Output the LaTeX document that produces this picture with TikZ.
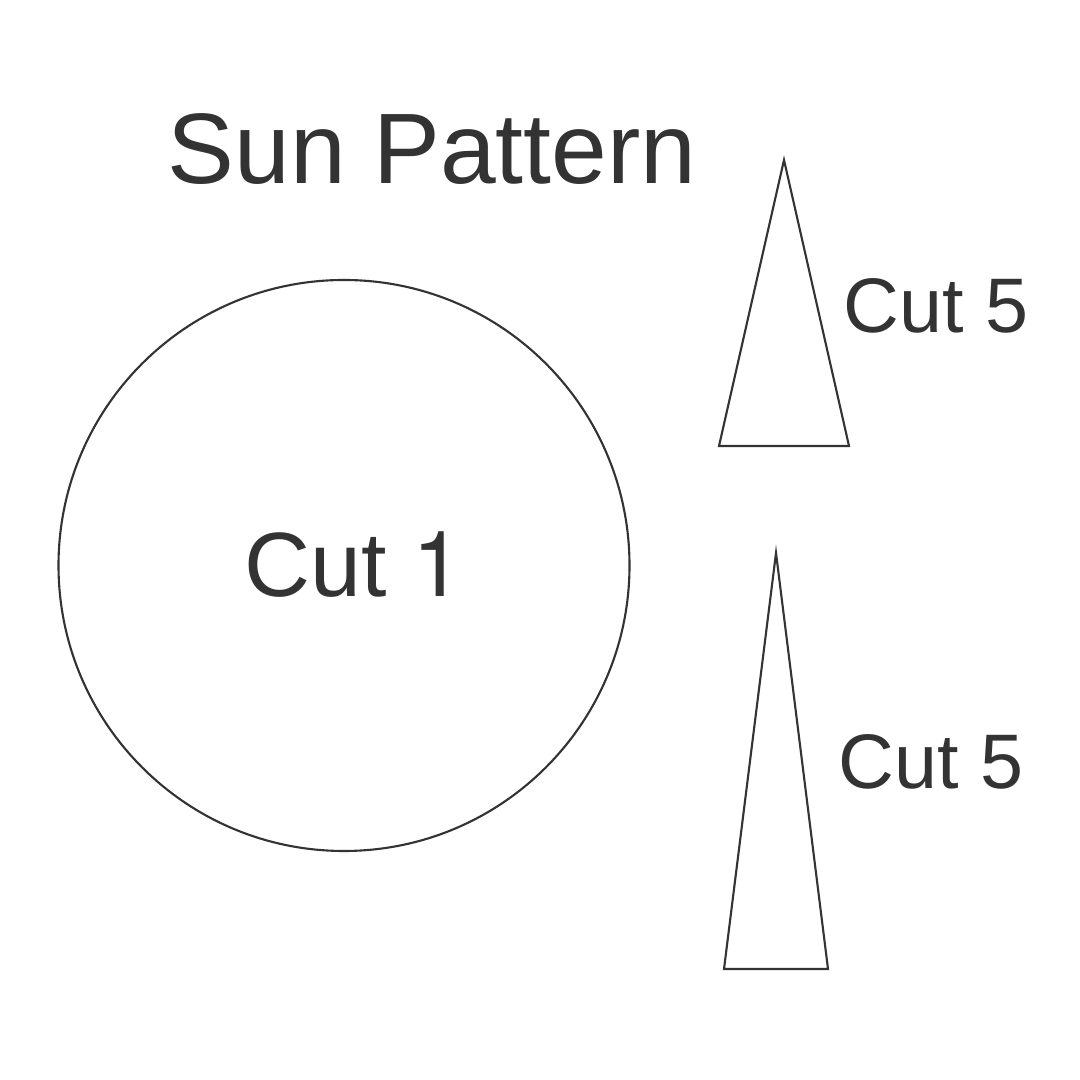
\documentclass[tikz,border=0pt]{standalone}
\usepackage{fontspec}
\setmainfont{Liberation Sans}
\newfontfamily\herosfont{TeX Gyre Heros}
\definecolor{ink}{HTML}{333333}
\tikzset{
    piece/.style={draw=ink, line width=0.6pt, line join=miter},
    lbl/.style={text=ink, inner sep=0pt}
}
\begin{document}
\begin{tikzpicture}
        \useasboundingbox[fill=white] (0,0) rectangle (10.8,10.8);

        % title
        \node[lbl, anchor=base] (title) at (4.32, 8.96) {\fontsize{28.5}{34}\selectfont Sun Pattern};

        % sun disc
        \draw[piece] (3.44, 5.145) circle (2.855);
        \node[lbl, anchor=base west] (disc) at (2.44, 4.83) {\fontsize{26}{31}\selectfont Cut {\herosfont 1}};

        % rays
        \draw[piece] (7.84, 9.20) -- (7.19, 6.34) -- (8.49, 6.34) -- cycle;
        \node[lbl, anchor=base west] (rayA) at (8.43, 7.47) {\fontsize{22}{27}\selectfont Cut 5};

        \draw[piece] (7.76, 5.27) -- (7.24, 1.11) -- (8.28, 1.11) -- cycle;
        \node[lbl, anchor=base west] (rayB) at (8.38, 2.91) {\fontsize{22}{27}\selectfont Cut 5};
    \end{tikzpicture}
\end{document}
